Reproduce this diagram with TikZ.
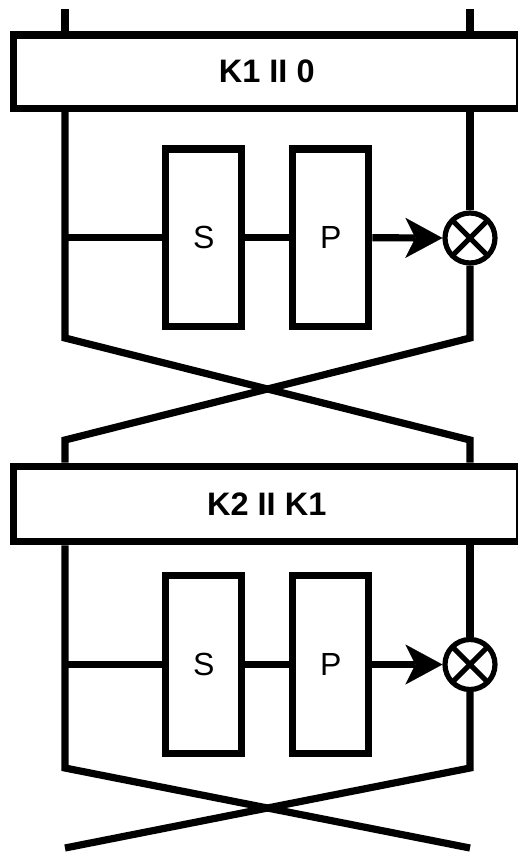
\documentclass[tikz,border=0pt]{standalone}
\usepackage{fontspec}
\setmainfont{Liberation Sans}
\usetikzlibrary{arrows.meta}
\begin{document}
\begin{tikzpicture}[x=1pt,y=-1pt,
  wire/.style={line width=7.2pt},
  keybox/.style={draw, line width=7.2pt, minimum width=506.5pt, inner sep=0pt,
    font=\fontsize{32.5}{38}\selectfont\bfseries},
  fbox/.style={draw, line width=7.2pt, minimum width=76pt, minimum height=177.5pt,
    inner sep=0pt, font=\fontsize{32}{38}\selectfont},
  xorc/.style={draw, circle, line width=5.2pt, minimum size=50pt, inner sep=0pt},
  xorx/.style={line width=5.2pt},
  tip/.style={-{Stealth[length=37pt,width=40pt,inset=10pt,line width=0.1pt]}}
]
\clip (0,0) rectangle (518,852);
\fill[white] (0,0) rectangle (518,852);

% key boxes
\node[keybox, minimum height=73.3pt] (K1) at (266.75,71.7) {\raisebox{1.5pt}{K1 II 0}};
\node[keybox, minimum height=75.4pt] (K2) at (266.75,504) {K2 II K1};

% round 1
\node[fbox] (S1) at (203.75,237.75) {S};
\node[fbox] (P1) at (330.75,237.75) {P};
\node[xorc] (X1) at (470,238) {};
\draw[xorx] (X1.center) ++(45:25) -- ++(225:50);
\draw[xorx] (X1.center) ++(135:25) -- ++(315:50);

% round 2
\node[fbox] (S2) at (203.75,664.5) {S};
\node[fbox] (P2) at (330.75,664.5) {P};
\node[xorc] (X2) at (470,664.5) {};
\draw[xorx] (X2.center) ++(45:25) -- ++(225:50);
\draw[xorx] (X2.center) ++(135:25) -- ++(315:50);

% coordinates
\coordinate (tinL) at (65,9);
\coordinate (tinR) at (470,9);
\coordinate (b1L) at (65,338);
\coordinate (b1R) at (470,338);
\coordinate (c1L) at (65,440);
\coordinate (c1R) at (470,440);
\coordinate (b2L) at (65,768);
\coordinate (b2R) at (470,768);
\coordinate (endL) at (65,848);
\coordinate (endR) at (470,848);
\coordinate (h1) at (65,237.75);
\coordinate (h2) at (65,664.5);

% inputs
\draw[wire] (tinL) -- (tinL |- K1.north);
\draw[wire] (tinR) -- (tinR |- K1.north);

% round 1 wiring
\draw[wire] (b1L |- K1.south) -- (b1L) -- (c1R) -- (c1R |- K2.north);
\draw[wire] (b1R |- K1.south) -- (X1.north);
\draw[wire] (X1.south) -- (b1R) -- (c1L) -- (c1L |- K2.north);
\draw[wire] (h1) -- (S1.west);
\draw[wire] (S1.east) -- (P1.west);
\draw[wire,tip] (P1.east) -- (X1.west);

% round 2 wiring
\draw[wire] (b2L |- K2.south) -- (b2L) -- (endR);
\draw[wire] (b2R |- K2.south) -- (X2.north);
\draw[wire] (X2.south) -- (b2R) -- (endL);
\draw[wire] (h2) -- (S2.west);
\draw[wire] (S2.east) -- (P2.west);
\draw[wire,tip] (P2.east) -- (X2.west);
\end{tikzpicture}
\end{document}
